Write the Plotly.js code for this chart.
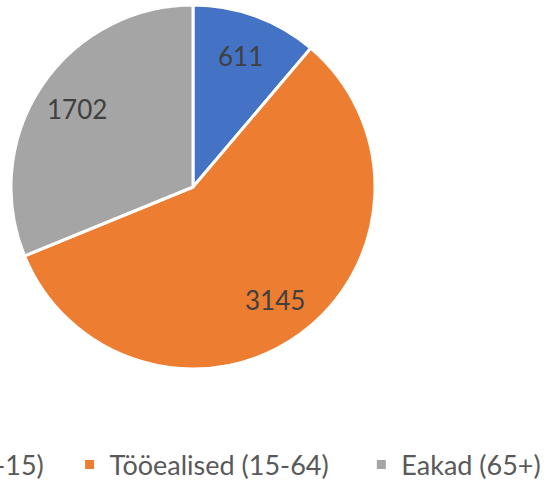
<!DOCTYPE html>
<html>
<head>
<meta charset="utf-8">
<script src="https://cdn.plot.ly/plotly-3.0.1.min.js"></script>
<style>
html, body { margin: 0; padding: 0; background: #ffffff; overflow: hidden; width: 552px; height: 484px; }
#chart { position: absolute; top: 0; }
</style>
</head>
<body>
<div id="chart"></div>
<script>
// ---- data ----
const categories = ["Lapsed (0-15)", "Tööealised (15-64)", "Eakad (65+)"];
const values = [611, 3145, 1702];
const colors = ["#4472C4", "#ED7D31", "#A5A5A5"];

// ---- layout constants (the reference is a crop of a wider chart) ----
const VIEW_W = 552, H = 484;
const OFF = 320;                 // hidden part on the left
const W = VIEW_W + OFF;
const CX = 193 + OFF, CY = 187, R = 182;
const LABEL_R = 0.765;

document.getElementById('chart').style.left = (-OFF) + 'px';

const padCounts = [3, 4, 0];     // legend spacing (non-breaking spaces after each name)
const legendNames = categories.map((c, i) => c + "\u00A0".repeat(padCounts[i]));

const trace = {
  type: 'pie',
  labels: legendNames,
  values: values,
  sort: false,
  direction: 'clockwise',
  rotation: 0,
  marker: { colors: colors, line: { color: '#ffffff', width: 3 } },
  textinfo: 'none',
  hoverinfo: 'label+value+percent',
  domain: { x: [(CX - R) / W, (CX + R) / W], y: [1 - (CY + R) / H, 1 - (CY - R) / H] }
};

// data labels placed along each slice's mid angle
const total = values.reduce((a, b) => a + b, 0);
let cum = 0;
const annotations = values.map((v) => {
  const mid = (cum + v / 2) / total * 2 * Math.PI;
  cum += v;
  return {
    text: String(v),
    xref: 'paper', yref: 'paper',
    x: (CX + LABEL_R * R * Math.sin(mid)) / W,
    y: 1 - (CY - LABEL_R * R * Math.cos(mid)) / H,
    xanchor: 'center', yanchor: 'middle',
    showarrow: false,
    font: { family: 'Lato, "Liberation Sans", sans-serif', size: 26, color: '#404040' }
  };
});

const layout = {
  width: W, height: H,
  margin: { l: 0, r: 0, t: 0, b: 0, autoexpand: false },
  paper_bgcolor: '#ffffff',
  showlegend: true,
  legend: {
    orientation: 'h',
    x: (OFF - 158) / W, xanchor: 'left',
    y: 1 - 465 / H, yanchor: 'middle',
    font: { family: 'Lato, "Liberation Sans", sans-serif', size: 27, color: '#595959' },
    bgcolor: 'rgba(0,0,0,0)'
  },
  annotations: annotations
};

Plotly.newPlot('chart', [trace], layout, { displayModeBar: false, staticPlot: true });
</script>
</body>
</html>
